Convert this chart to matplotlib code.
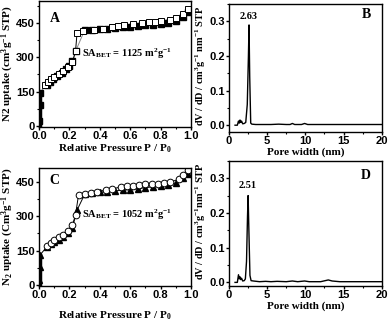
import matplotlib
matplotlib.use("Agg")
import matplotlib.pyplot as plt
from matplotlib.ticker import MultipleLocator

# ---- isotherm A (adsorption filled squares, desorption open squares)
a_ads_p = [0.002, 0.004, 0.006, 0.05, 0.07, 0.09, 0.12, 0.15, 0.18, 0.2, 0.22, 0.24, 0.3, 0.35, 0.4, 0.45, 0.5, 0.55, 0.6, 0.65, 0.7, 0.75, 0.8, 0.85, 0.9, 0.95, 0.98]
a_ads_v = [20, 90, 145, 180, 192, 205, 218, 232, 250, 262, 282, 325, 418, 420, 422, 425, 428, 430, 433, 436, 439, 442, 446, 450, 458, 475, 497]
a_des_p = [0.04, 0.06, 0.08, 0.1, 0.13, 0.16, 0.19, 0.22, 0.24, 0.25, 0.29, 0.36, 0.42, 0.48, 0.52, 0.56, 0.62, 0.68, 0.72, 0.76, 0.8, 0.86, 0.9, 0.95, 0.98]
a_des_v = [180, 192, 205, 212, 225, 240, 257, 279, 325, 405, 412, 419, 425, 433, 437, 440, 445, 449, 452, 455, 458, 463, 472, 490, 512]

# ---- isotherm C (adsorption filled triangles, desorption open circles)
c_ads_p = [0.002, 0.004, 0.006, 0.05, 0.08, 0.1, 0.13, 0.16, 0.19, 0.22, 0.25, 0.3, 0.35, 0.4, 0.45, 0.5, 0.55, 0.6, 0.65, 0.7, 0.75, 0.8, 0.85, 0.9, 0.95, 0.98]
c_ads_v = [20, 80, 130, 165, 178, 186, 198, 210, 228, 250, 326, 395, 400, 404, 407, 410, 413, 416, 420, 424, 428, 432, 437, 445, 465, 485]
c_des_p = [0.05, 0.08, 0.1, 0.13, 0.16, 0.19, 0.22, 0.24, 0.26, 0.3, 0.34, 0.38, 0.44, 0.48, 0.54, 0.58, 0.62, 0.66, 0.7, 0.74, 0.78, 0.82, 0.86, 0.92, 0.95, 0.98]
c_des_v = [170, 185, 195, 207, 218, 235, 262, 305, 393, 398, 402, 406, 414, 418, 428, 430, 433, 436, 438, 440, 442, 445, 449, 460, 478, 500]

# ---- pore size distributions
b_w = [0.8, 1.1, 1.25, 1.35, 1.45, 1.55, 1.65, 1.8, 2.0, 2.2, 2.4, 2.55, 2.63, 2.72, 2.85, 3.0, 3.5, 4.5, 5.5, 6.5, 7.5, 8.0, 8.3, 8.6, 9.5, 9.9, 10.3, 11, 13, 15, 17, 20]
b_v = [0.0, 0.0, 0.012, 0.006, 0.015, 0.008, 0.012, 0.004, 0.005, 0.008, 0.06, 0.2, 0.29, 0.14, 0.006, 0.003, 0.002, 0.002, 0.002, 0.003, 0.002, 0.002, 0.005, 0.002, 0.002, 0.005, 0.002, 0.002, 0.002, 0.002, 0.002, 0.002]
d_w = [0.8, 1.1, 1.25, 1.35, 1.45, 1.55, 1.65, 1.8, 2.0, 2.15, 2.3, 2.43, 2.51, 2.6, 2.75, 2.9, 3.2, 4.0, 4.8, 5.5, 6.3, 7.5, 8.3, 9.0, 9.9, 10.5, 12.0, 12.6, 13.0, 13.5, 14.5, 17, 20]
d_v = [0.0, 0.0, 0.022, 0.01, 0.016, 0.008, 0.012, 0.004, 0.005, 0.01, 0.06, 0.19, 0.25, 0.16, 0.02, 0.005, 0.004, 0.002, 0.003, 0.002, 0.003, 0.002, 0.004, 0.002, 0.004, 0.002, 0.002, 0.005, 0.007, 0.004, 0.002, 0.002, 0.002]

plt.rcParams['font.family'] = ['Liberation Sans', 'DejaVu Sans']
plt.rcParams['font.weight'] = 'bold'
plt.rcParams['mathtext.fontset'] = 'custom'
plt.rcParams['mathtext.rm'] = 'Liberation Serif:bold'
plt.rcParams['mathtext.it'] = 'Liberation Serif:bold'
plt.rcParams['mathtext.bf'] = 'Liberation Serif:bold'

serif = dict(family='Liberation Serif', weight='bold')
LAB = 8
TICK = 8

fig = plt.figure(figsize=(3.92, 3.23), dpi=100)
axA = fig.add_axes([0.0995, 0.607, 0.388, 0.390])
axB = fig.add_axes([0.584, 0.591, 0.390, 0.396])
axC = fig.add_axes([0.0995, 0.115, 0.388, 0.365])
axD = fig.add_axes([0.584, 0.115, 0.390, 0.387])


def style(ax):
    for s in ax.spines.values():
        s.set_linewidth(1.0)
    ax.tick_params(direction='out', length=2.5, width=1, labelsize=TICK, pad=0.5)
    ax.tick_params(which='minor', direction='out', length=1.5, width=0.8)
    for lab in ax.get_xticklabels() + ax.get_yticklabels():
        lab.set_fontweight('bold')


# ---- A
axA.plot(a_ads_p, a_ads_v, '-', color='0.55', lw=0.7)
axA.plot(a_ads_p, a_ads_v, 's', mfc='black', mec='black', ms=3.8)
axA.plot(a_des_p, a_des_v, '-', color='black', lw=0.7)
axA.plot(a_des_p, a_des_v, 's', mfc='white', mec='black', ms=4.6, mew=0.7)
axA.plot([0.004, 0.004], [0, 145], color='black', lw=2.5)
axA.set_xlim(0, 1.0)
axA.set_ylim(-4, 545)
axA.xaxis.set_major_locator(MultipleLocator(0.2))
axA.yaxis.set_major_locator(MultipleLocator(150))
axA.xaxis.set_minor_locator(MultipleLocator(0.1))
axA.yaxis.set_minor_locator(MultipleLocator(75))
axA.set_xlabel('Relative Pressure P / P$_0$', fontsize=LAB, labelpad=1, **serif)
axA.set_ylabel('N2 uptake (cm$^3$g$^{-1}$ STP)', fontsize=LAB, **serif)
axA.yaxis.set_label_coords(-0.15, 0.5)
axA.text(0.07, 455, 'A', fontsize=10, **serif)
axA.text(0.28, 300, 'SA$_{BET}$ = 1125 m$^2$g$^{-1}$', fontsize=7.5, **serif)
style(axA)

# ---- B
axB.plot(b_w, b_v, color='black', lw=1.0)
axB.set_xlim(0, 20)
axB.set_ylim(-0.02, 0.35)
axB.xaxis.set_major_locator(MultipleLocator(5))
axB.xaxis.set_minor_locator(MultipleLocator(2.5))
axB.yaxis.set_major_locator(MultipleLocator(0.1))
axB.yaxis.set_minor_locator(MultipleLocator(0.05))
axB.set_xlabel('Pore width (nm)', fontsize=LAB, labelpad=1, **serif)
axB.set_ylabel('dV / dD / cm$^3$g$^{-1}$ nm$^{-1}$ STP', fontsize=7.4, **serif)
axB.yaxis.set_label_coords(-0.14, 0.52)
axB.text(2.63, 0.3, '2.63', fontsize=7.5, ha='center', va='bottom', **serif)
axB.text(18.6, 0.3, 'B', fontsize=10, ha='right', va='bottom', **serif)
style(axB)

# ---- C
axC.plot(c_ads_p, c_ads_v, '-', color='black', lw=0.7)
axC.plot(c_ads_p, c_ads_v, '^', mfc='black', mec='black', ms=4.3)
axC.plot(c_des_p, c_des_v, '-', color='black', lw=0.7)
axC.plot(c_des_p, c_des_v, 'o', mfc='white', mec='black', ms=4.8, mew=0.7)
axC.plot([0.004, 0.004], [0, 130], color='black', lw=2.5)
axC.set_xlim(0, 1.0)
axC.set_ylim(-4, 510)
axC.xaxis.set_major_locator(MultipleLocator(0.2))
axC.yaxis.set_major_locator(MultipleLocator(150))
axC.xaxis.set_minor_locator(MultipleLocator(0.1))
axC.yaxis.set_minor_locator(MultipleLocator(75))
axC.set_xlabel('Relative Pressure P / P$_0$', fontsize=LAB, labelpad=7, **serif)
axC.set_ylabel('N$_2$ uptake (Cm$^3$g$^{-1}$ STP)', fontsize=LAB, **serif)
axC.yaxis.set_label_coords(-0.15, 0.5)
axC.text(0.07, 440, 'C', fontsize=10, **serif)
axC.text(0.28, 290, 'SA$_{BET}$ = 1052 m$^2$g$^{-1}$', fontsize=7.5, **serif)
style(axC)

# ---- D
axD.plot(d_w, d_v, color='black', lw=1.0)
axD.set_xlim(0, 20)
axD.set_ylim(-0.01, 0.35)
axD.xaxis.set_major_locator(MultipleLocator(5))
axD.xaxis.set_minor_locator(MultipleLocator(2.5))
axD.yaxis.set_major_locator(MultipleLocator(0.1))
axD.yaxis.set_minor_locator(MultipleLocator(0.05))
axD.set_xlabel('Pore width (nm)', fontsize=LAB, labelpad=1, **serif)
axD.set_ylabel('dV / dD / cm$^3$g$^{-1}$nm$^{-1}$ STP', fontsize=7.4, **serif)
axD.yaxis.set_label_coords(-0.14, 0.52)
axD.text(2.51, 0.265, '2.51', fontsize=7.5, ha='center', va='bottom', **serif)
axD.text(18.6, 0.29, 'D', fontsize=10, ha='right', va='bottom', **serif)
style(axD)

fig.savefig('out.png', dpi=100)
